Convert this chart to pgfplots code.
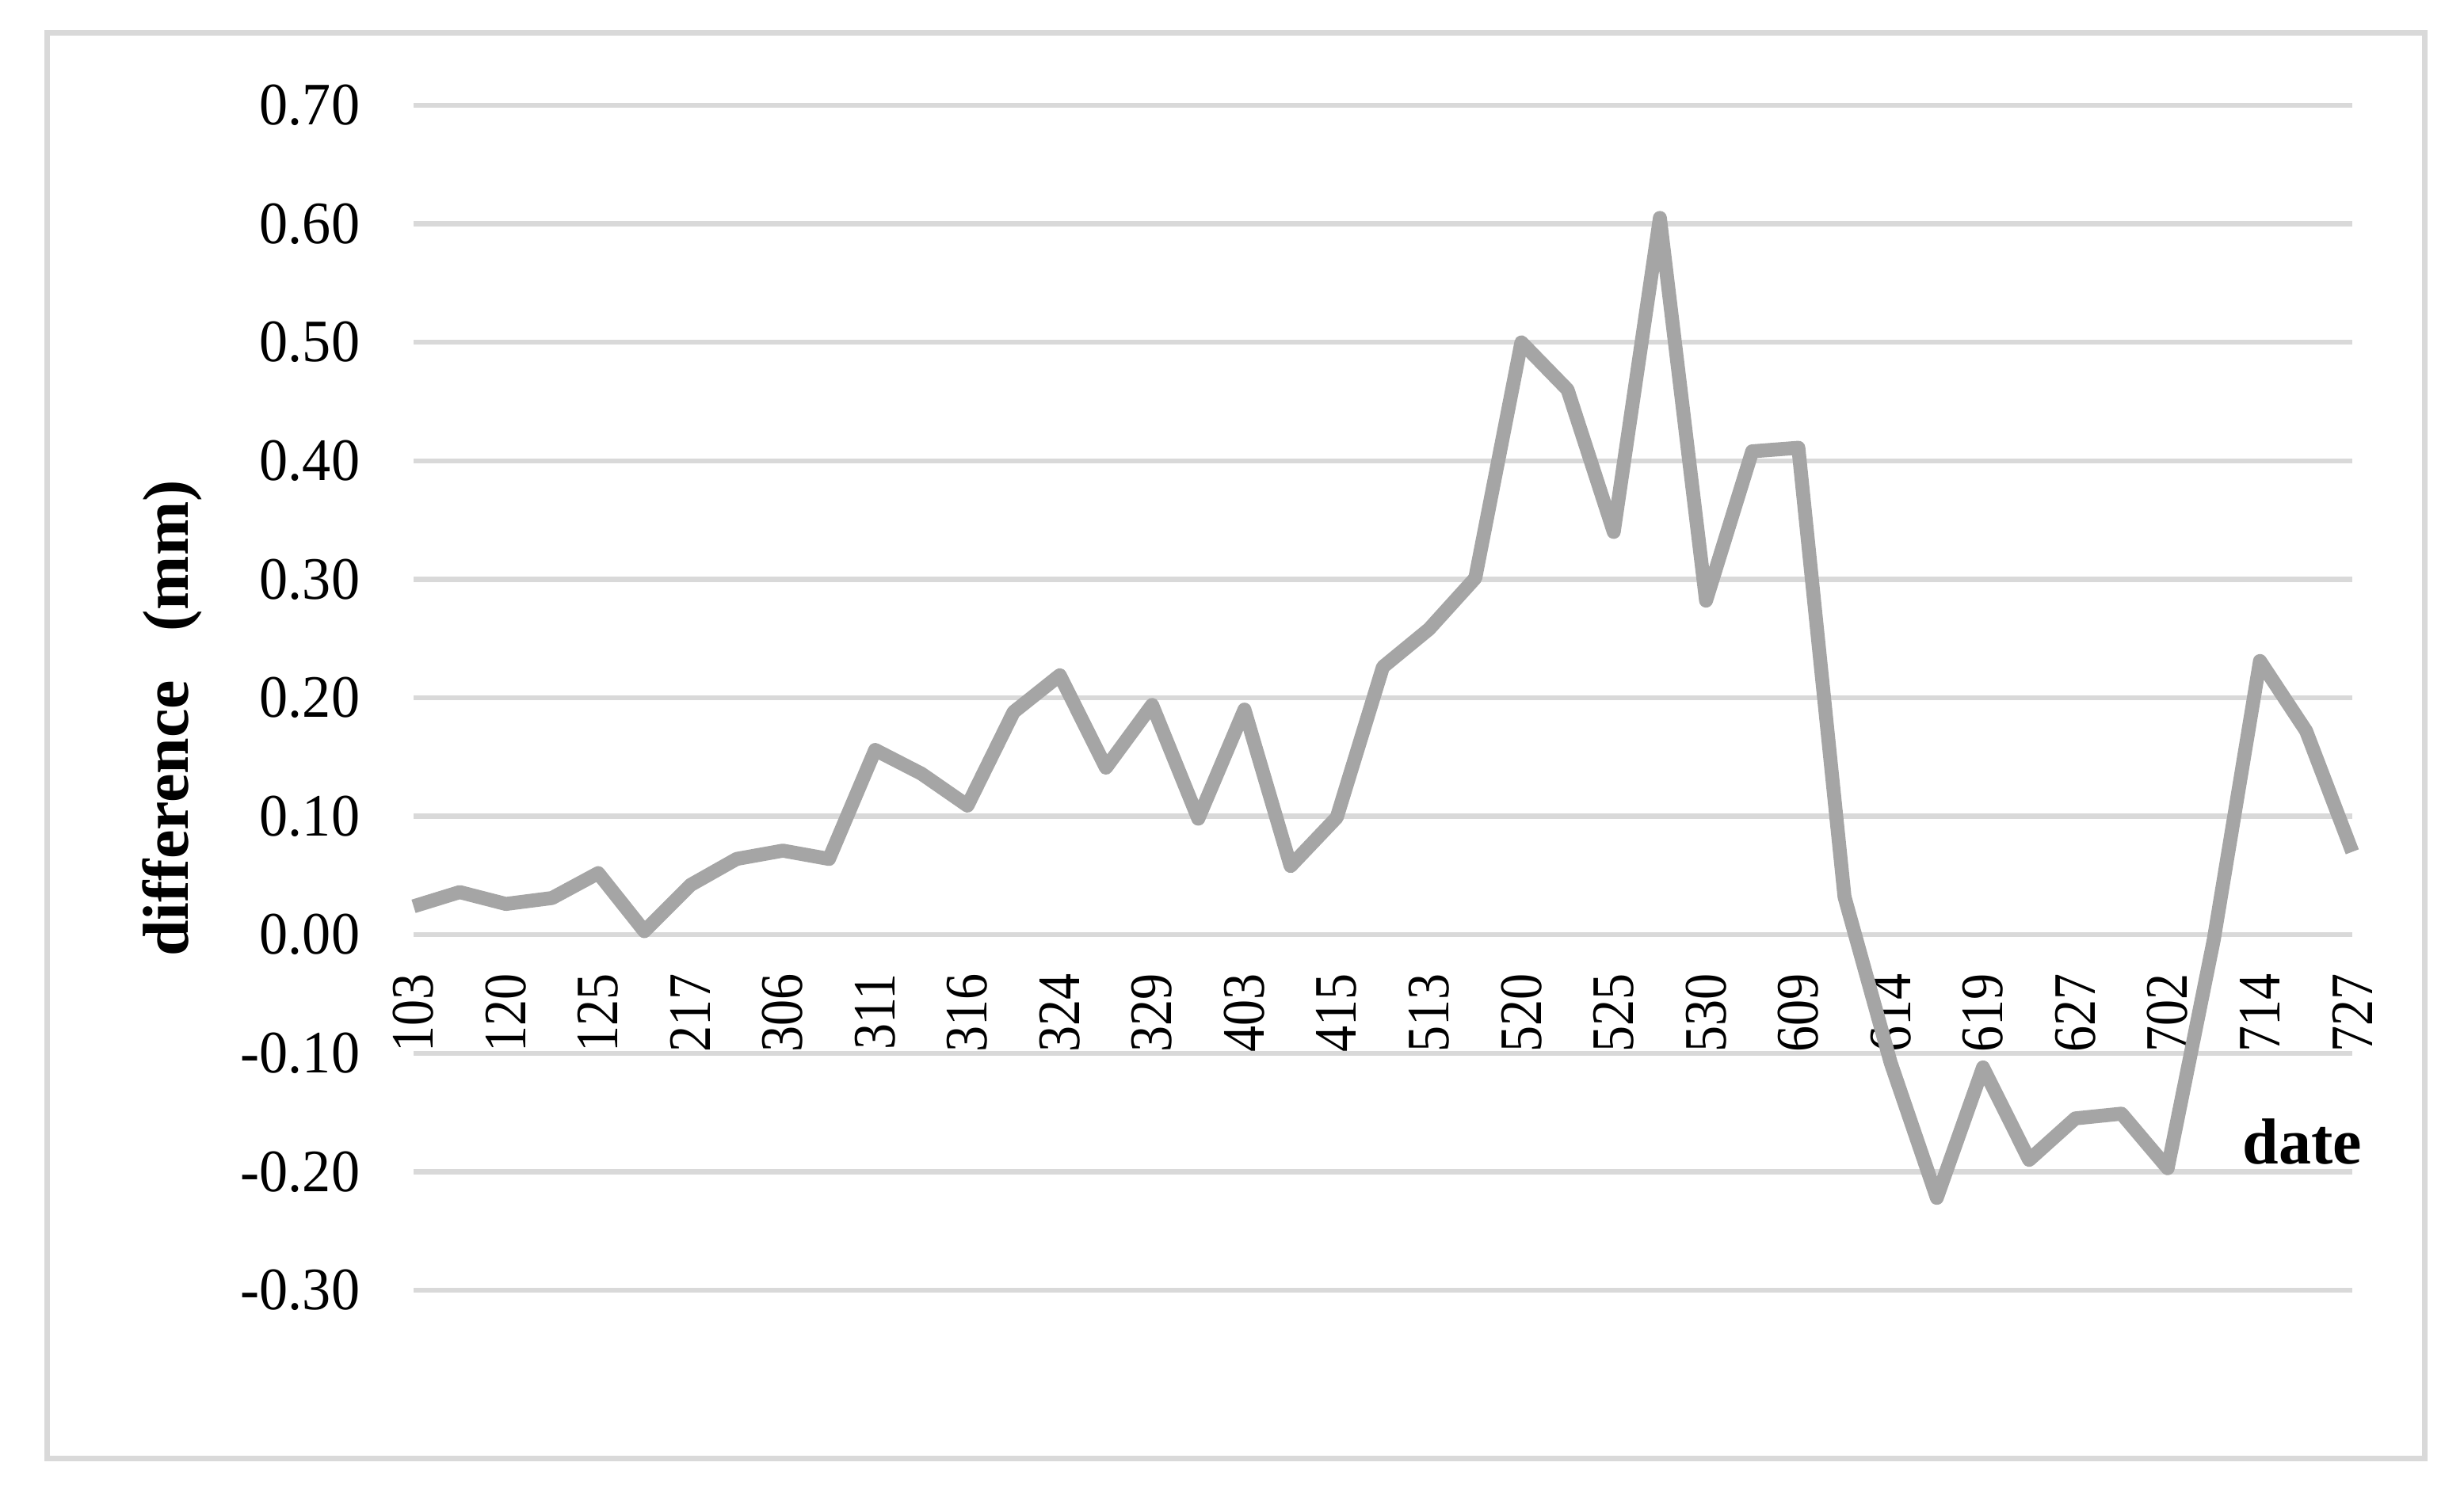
\documentclass[border=0pt]{standalone}
\usepackage{pgfplots}
\pgfplotsset{compat=1.18}
\usepackage{fontspec}
\setmainfont{Liberation Serif}
\newfontfamily\xcond[FakeStretch=0.87]{Liberation Serif}
\newfontfamily\ycond[FakeStretch=0.95]{Liberation Serif}
\definecolor{linegray}{HTML}{A5A5A5}
\definecolor{gridgray}{HTML}{D9D9D9}
\begin{document}
\begin{tikzpicture}
\path[use as bounding box] (-130.5pt,-62.5pt) rectangle (647pt,407.25pt);
\draw[gridgray, line width=1.75pt] (-115.5pt,-53pt) rectangle (634.5pt,397pt);
\begin{axis}[
  at={(0pt,0pt)}, anchor=south west,
  scale only axis,
  width=611.75pt, height=374pt,
  xmin=0, xmax=42, ymin=-0.3, ymax=0.7,
  clip=false,
  axis x line=middle, axis y line=left,
  axis line style={draw=none},
  hide obscured x ticks=false, hide obscured y ticks=false,
  major tick length=0pt,
  ymajorgrids,
  grid style={gridgray, line width=1.6pt},
  ytick={-0.3,-0.2,-0.1,0,0.1,0.2,0.3,0.4,0.5,0.6,0.7},
  yticklabels={-0.30,-0.20,-0.10,0.00,0.10,0.20,0.30,0.40,0.50,0.60,0.70},
  xtick={0,2,...,42},
  xticklabels={103,120,125,217,306,311,316,324,329,403,415,513,520,525,530,609,614,619,627,702,714,727},
  yticklabel style={font=\ycond\fontsize{19}{22}\selectfont, anchor=east, inner sep=0pt},
  yticklabel shift=16.75pt,
  xticklabel style={font=\xcond\fontsize{19}{22}\selectfont, rotate=90, anchor=east, inner sep=0pt},
  xticklabel shift=12pt,
  xlabel={date},
  xlabel style={at={(axis description cs:1.0053,0.1063)}, anchor=base east, inner sep=0pt, font=\bfseries\fontsize{20.5}{24}\selectfont},
  ylabel={difference\hspace{0.75em}(mm)},
  ylabel style={at={(axis description cs:-0.1246,0.4826)}, anchor=center, inner sep=0pt, font=\bfseries\fontsize{20.5}{24}\selectfont},
]
\addplot[linegray, line width=4.4pt, line join=round, line cap=butt] coordinates {
(0,0.024) (1,0.036) (2,0.026) (3,0.031) (4,0.052) (5,0.003) (6,0.042) (7,0.064)
(8,0.071) (9,0.064) (10,0.156) (11,0.136) (12,0.109) (13,0.188) (14,0.219) (15,0.141)
(16,0.194) (17,0.098) (18,0.190) (19,0.058) (20,0.099) (21,0.226) (22,0.258) (23,0.301)
(24,0.500) (25,0.460) (26,0.340) (27,0.605) (28,0.282) (29,0.408) (30,0.411) (31,0.032)
(32,-0.108) (33,-0.222) (34,-0.112) (35,-0.190) (36,-0.155) (37,-0.151) (38,-0.197) (39,-0.004)
(40,0.231) (41,0.172) (42,0.070)
};
\end{axis}
\end{tikzpicture}
\end{document}
